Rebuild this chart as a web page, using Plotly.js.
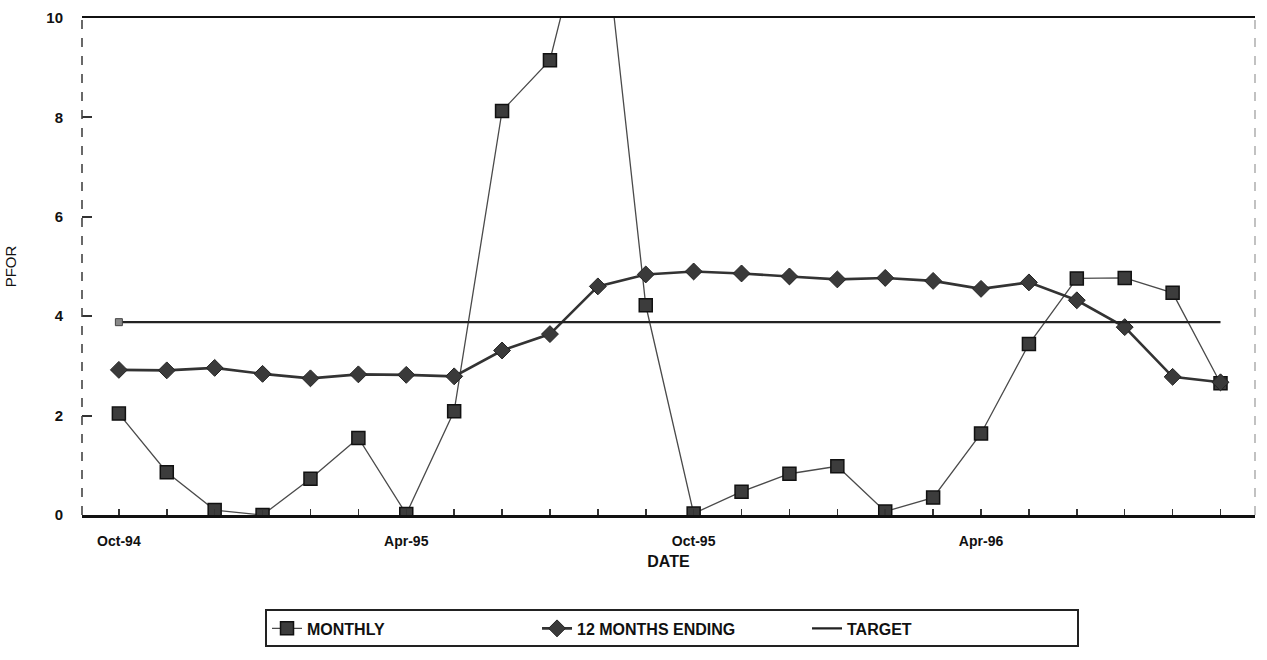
<!DOCTYPE html>
<html>
<head>
<meta charset="utf-8">
<script src="https://cdn.plot.ly/plotly-3.0.1.min.js"></script>
<style>
  html, body { margin: 0; padding: 0; background: #ffffff; }
  #chart { width: 1267px; height: 660px; }
</style>
</head>
<body>
<div id="chart"></div>
<script>
// ---- data ----
const months = ["Oct-94","Nov-94","Dec-94","Jan-95","Feb-95","Mar-95","Apr-95","May-95","Jun-95","Jul-95","Aug-95","Sep-95",
                "Oct-95","Nov-95","Dec-95","Jan-96","Feb-96","Mar-96","Apr-96","May-96","Jun-96","Jul-96","Aug-96","Sep-96"];
const monthly = [2.04, 0.86, 0.10, 0.00, 0.73, 1.55, 0.02, 2.09, 8.13, 9.15, 13.0, 4.22,
                 0.03, 0.47, 0.83, 0.98, 0.07, 0.35, 1.64, 3.44, 4.76, 4.77, 4.47, 2.65];
const twelveMonths = [2.92, 2.91, 2.96, 2.84, 2.75, 2.83, 2.82, 2.79, 3.31, 3.64, 4.60, 4.84,
                      4.90, 4.86, 4.80, 4.74, 4.77, 4.71, 4.55, 4.68, 4.32, 3.78, 2.78, 2.67];
const target = months.map(() => 3.88);
const labeledMonths = ["Oct-94", "Apr-95", "Oct-95", "Apr-96"];
const yTicks = [0, 2, 4, 6, 8, 10];

const xIdx = months.map((m, i) => i);
const tickText = months.map(m => labeledMonths.includes(m) ? m : "");

const FONT = "Liberation Sans, Arial, sans-serif";

const traces = [
  {
    name: "MONTHLY", x: xIdx, y: monthly, type: "scatter", mode: "lines+markers",
    line: { color: "#4a4a4a", width: 1.3 },
    marker: { symbol: "square", size: 13, color: "#3c3c3c", line: { color: "#111", width: 1.5 } },
    cliponaxis: true
  },
  {
    name: "12 MONTHS ENDING", x: xIdx, y: twelveMonths, type: "scatter", mode: "lines+markers",
    line: { color: "#333", width: 2.6 },
    marker: { symbol: "diamond", size: 13, color: "#3a3a3a", line: { color: "#222", width: 1 } }
  },
  {
    name: "TARGET", x: xIdx, y: target, type: "scatter", mode: "lines",
    line: { color: "#222", width: 2.4 }
  },
  {
    name: "TARGET start", x: [xIdx[0]], y: [target[0]], type: "scatter", mode: "markers",
    marker: { symbol: "square", size: 7, color: "#888", line: { color: "#444", width: 1 } },
    showlegend: false
  }
];

const layout = {
  width: 1267, height: 660,
  margin: { l: 82, r: 12, t: 18, b: 143 },
  paper_bgcolor: "#ffffff", plot_bgcolor: "#ffffff",
  font: { family: FONT, color: "#111", size: 14 },
  showlegend: true,
  xaxis: {
    range: [-0.77, 23.72],
    tickmode: "array", tickvals: xIdx, ticktext: tickText,
    ticks: "inside", ticklen: 6, tickwidth: 1.5, tickcolor: "#333",
    showline: true, linecolor: "#111", linewidth: 2.5, mirror: true,
    showgrid: false, zeroline: false,
    tickfont: { family: FONT, size: 14, color: "#111", weight: "bold" },
    ticklabelstandoff: 12,
    title: { text: "DATE", font: { family: FONT, size: 16, color: "#111", weight: "bold" }, standoff: 8 }
  },
  yaxis: {
    range: [0, 10],
    tickmode: "array", tickvals: yTicks, ticktext: yTicks.map(String),
    ticks: "inside", ticklen: 10, tickwidth: 2, tickcolor: "#333",
    showline: false, showgrid: false, zeroline: false,
    tickfont: { family: FONT, size: 15, color: "#111", weight: "bold" },
    ticklabelstandoff: 18,
    title: { text: "PFOR", font: { family: FONT, size: 15, color: "#111" }, standoff: 26 }
  },
  shapes: [
    { type: "line", xref: "paper", yref: "paper", x0: 0, x1: 0, y0: 0, y1: 1,
      line: { color: "#444", width: 1.6, dash: "dash" } },
    { type: "line", xref: "paper", yref: "paper", x0: 1, x1: 1, y0: 0, y1: 1,
      line: { color: "#999", width: 1.2, dash: "dash" } }
  ],
  legend: {
    orientation: "h", x: 0.503, xanchor: "center", y: -0.19, yanchor: "top",
    bordercolor: "#222", borderwidth: 2, bgcolor: "#fff",
    entrywidth: 225, entrywidthmode: "pixels",
    font: { family: FONT, size: 16, color: "#111", weight: "bold" },
    itemwidth: 30
  }
};

Plotly.newPlot("chart", traces, layout, { displayModeBar: false, staticPlot: true });
</script>
</body>
</html>
